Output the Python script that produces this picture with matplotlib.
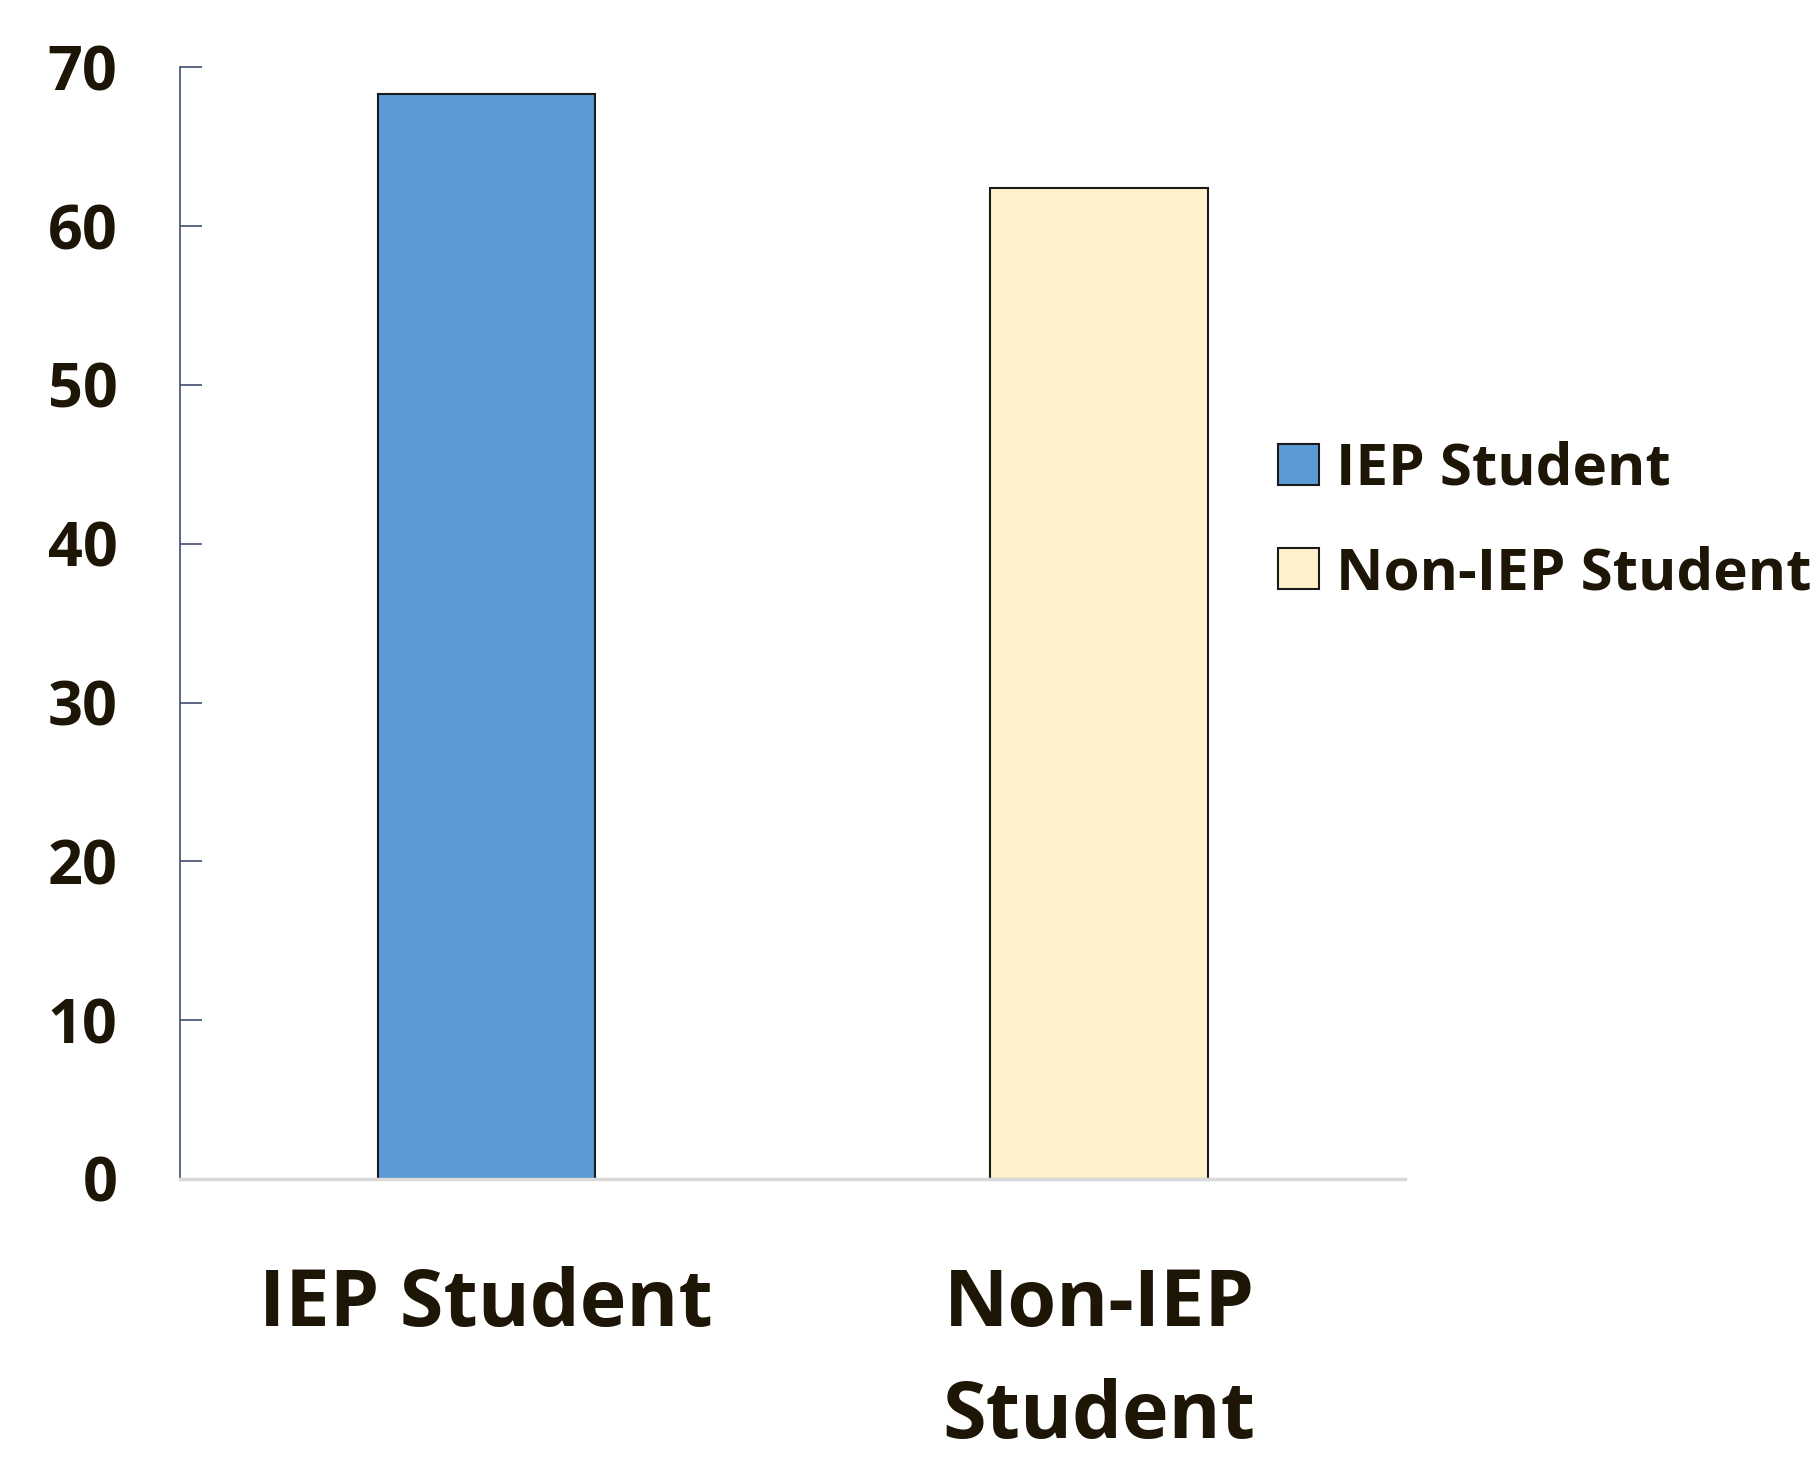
import matplotlib.pyplot as plt

# Porcentaje por grupo de estudiantes
grupos = ["IEP Student", "Non-IEP\nStudent"]
leyenda = ["IEP Student", "Non-IEP Student"]
valores = [68.3, 62.4]
colores = ["#5b9bd5", "#fff2cc"]
yticks = [0, 10, 20, 30, 40, 50, 60, 70]

plt.rcParams['font.family'] = ['Open Sans', 'DejaVu Sans']
texto = "#1d1606"

fig = plt.figure(figsize=(18.18, 14.64), dpi=100)
ax = fig.add_axes([0.099, 0.1947, 0.674, 0.7593])

barras = ax.bar(range(len(valores)), valores, width=0.355, color=colores,
                edgecolor="#1a1a1a", linewidth=1.5, label=leyenda)

ax.set_xlim(-0.5, 1.5)
ax.set_ylim(0, 70)
ax.set_yticks(yticks)
ax.set_xticks(range(len(grupos)))
ax.set_xticklabels(grupos, fontsize=57, fontweight="bold", color=texto,
                   linespacing=1.55, va="top")

ax.tick_params(axis="y", direction="in", length=16, width=1.2, color="#3f4f6f",
               labelsize=44, labelcolor=texto, pad=45)
for t in ax.get_yticklabels():
    t.set_fontweight("bold")
ax.tick_params(axis="x", length=0, pad=63)

for lado in ["top", "right"]:
    ax.spines[lado].set_visible(False)
ax.spines["left"].set_color("#3f4f6f")
ax.spines["left"].set_linewidth(1.2)
ax.spines["bottom"].set_color("#d9d9d9")
ax.spines["bottom"].set_linewidth(2.5)

ax.legend(barras, leyenda, loc="center left", bbox_to_anchor=(0.853, 0.591),
          frameon=False, prop={"size": 42, "weight": "bold"},
          handlelength=0.7, handleheight=0.7, handletextpad=0.3,
          labelspacing=0.8, labelcolor=texto)

fig.savefig("out.png", dpi=100)
